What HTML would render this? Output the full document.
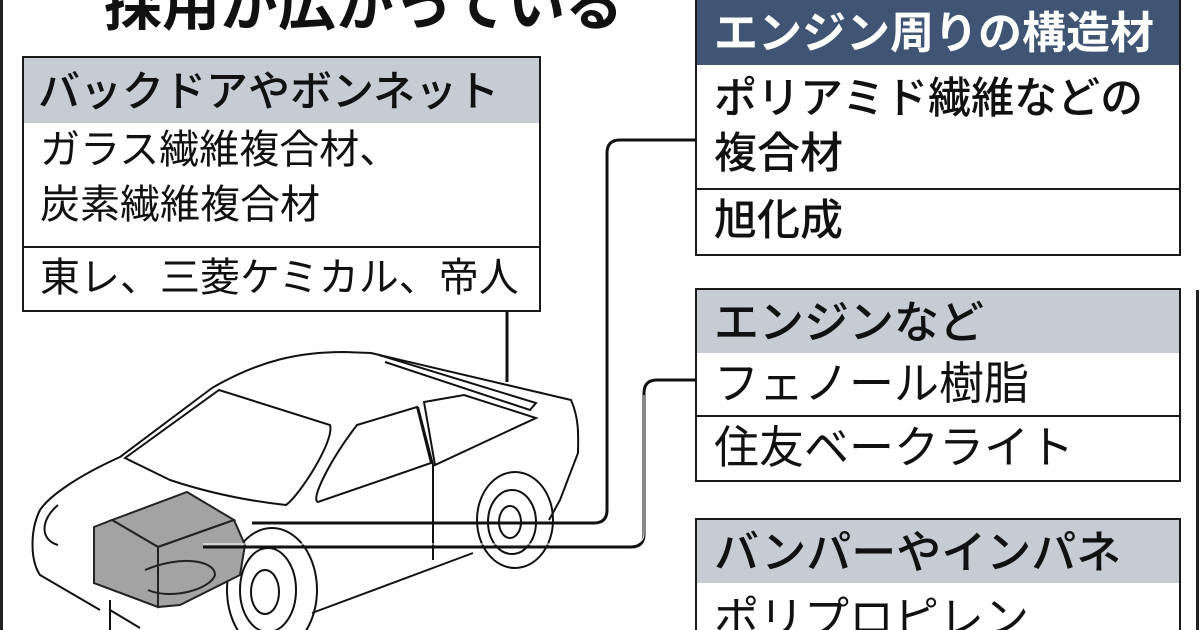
<!DOCTYPE html>
<html><head><meta charset="utf-8"><style>
html,body{margin:0;padding:0;background:#fff;}
#c{position:relative;width:1200px;height:630px;overflow:hidden;background:#fff;font-family:"Liberation Sans","Noto Sans CJK JP",sans-serif;color:#111;}
.b{position:absolute;border:2.5px solid #1a1a1a;box-sizing:border-box;background:#fff;}
.t{position:absolute;white-space:nowrap;line-height:1;}
.hd{position:absolute;left:0;right:0;top:0;background:#c7ccd4;}
.ln{position:absolute;left:0;right:0;height:2px;background:#1a1a1a;}
</style></head><body><div id="c">
<div style="position:absolute;left:0;top:0;width:3px;height:630px;background:#222"></div>
<div style="position:absolute;left:1196px;top:290px;width:3px;height:340px;background:#222"></div>
<div class="t" style="left:104px;top:-23px;font-size:58px;font-weight:bold;">採用が広がっている</div>

<svg style="position:absolute;left:0;top:0" width="1200" height="630">
<g fill="none" stroke="#111" stroke-width="2">
<path d="M212,388 C260,360 300,352 344,352 L371,353 L571,400 C580,420 578,440 578,453 L560,500 L549,520"/>
<path d="M212,388 L120,457 C80,475 50,495 40,510 C30,530 30,560 40,575 L100,610"/>
<path d="M312,613 L473,553"/>
<path d="M379,355 L536,403 L530,410 L385,362"/>
<path d="M125,458 L219,390 L330,425 C335,440 300,495 286,505 C240,500 200,490 170,480 Z"/>
<path d="M357,425 L417,407 L431,463 L318,502 C310,500 330,460 357,425 Z"/>
<path d="M424,402 L464,395 L536,418 L435,465 Z"/>
<path d="M418,407 L433,465 L433,560"/>
<ellipse cx="272" cy="590" rx="45" ry="62"/>
<ellipse cx="268" cy="590" rx="28" ry="42"/>
<ellipse cx="265" cy="592" rx="14" ry="22"/>
<ellipse cx="515" cy="520" rx="38" ry="48"/>
<ellipse cx="512" cy="522" rx="24" ry="32"/>
<ellipse cx="510" cy="522" rx="11" ry="16"/>
<path d="M58,505 C40,520 40,540 58,545"/>
<path d="M110,600 L110,630 M110,610 L140,628"/>
</g>
<g stroke="#222" stroke-width="2" fill="#a3a3a3">
<path d="M112,520 L187,492 L234,520 L158,547 Z"/>
<path d="M94,527 L112,520 L158,547 L158,607 L94,583 Z"/>
<path d="M158,547 L234,520 L245,545 L240,575 L180,605 L158,607 Z"/>
</g>
<path d="M145,570 C180,555 215,560 215,575 C210,590 170,600 148,590" fill="none" stroke="#222" stroke-width="2"/>
<g fill="none" stroke="#111" stroke-width="3">
<path d="M507,311 L507,382"/>
<path d="M695,140 L620,140 Q607,140 607,153 L607,510 Q607,523 594,523 L252,523"/>
<path d="M695,380 L657,380 Q644,380 644,393 L644,534 Q644,547 631,547 L203,547"/>
</g>
<path d="M644,395 L644,533 Q644,544 631,544 L203,544" fill="none" stroke="#fff" stroke-width="1"/>
</svg>

<div class="b" style="left:22px;top:56px;width:519px;height:256px;">
 <div class="hd" style="height:65px;"></div>
 <div class="ln" style="top:188px;"></div>
</div>
<div class="t" style="left:38px;top:71px;font-size:42px;font-weight:500;">バックドアやボンネット</div>
<div class="t" style="left:40px;top:130px;font-size:40px;">ガラス繊維複合材、</div>
<div class="t" style="left:40px;top:185px;font-size:40px;">炭素繊維複合材</div>
<div class="t" style="left:40px;top:258px;font-size:40px;">東レ、三菱ケミカル、帝人</div>

<div class="b" style="left:695px;top:-3px;width:486px;height:259px;">
 <div class="hd" style="height:66px;background:#3f5573;"></div>
 <div class="ln" style="top:189px;"></div>
</div>
<div class="t" style="left:714px;top:12px;font-size:44px;font-weight:bold;color:#fff;">エンジン周りの構造材</div>
<div class="t" style="left:714px;top:78px;font-size:43px;font-weight:500;">ポリアミド繊維などの</div>
<div class="t" style="left:714px;top:133px;font-size:43px;font-weight:500;">複合材</div>
<div class="t" style="left:714px;top:200px;font-size:43px;font-weight:500;">旭化成</div>

<div class="b" style="left:695px;top:288px;width:486px;height:194px;">
 <div class="hd" style="height:63px;"></div>
 <div class="ln" style="top:125px;"></div>
</div>
<div class="t" style="left:714px;top:300px;font-size:45px;font-weight:500;">エンジンなど</div>
<div class="t" style="left:714px;top:361px;font-size:45px;">フェノール樹脂</div>
<div class="t" style="left:714px;top:425px;font-size:45px;">住友ベークライト</div>

<div class="b" style="left:695px;top:518px;width:486px;height:130px;">
 <div class="hd" style="height:63px;"></div>
</div>
<div class="t" style="left:714px;top:530px;font-size:45px;font-weight:500;">バンパーやインパネ</div>
<div class="t" style="left:714px;top:596px;font-size:45px;">ポリプロピレン</div>
</div></body></html>
